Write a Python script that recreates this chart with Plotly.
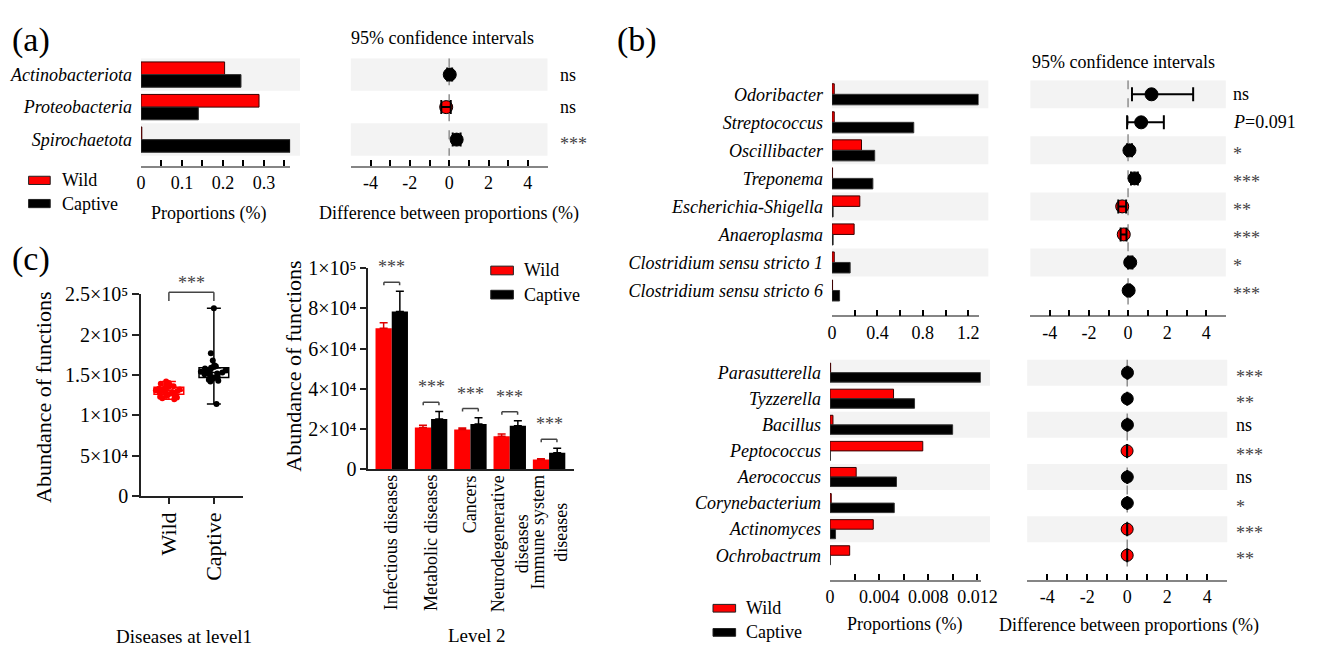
import numpy as np
import plotly.graph_objects as go

W, H = 1320, 655
FONT = "Liberation Serif"
RED = "#ff0000"
BLACK = "#000000"
BAND = "#f3f3f3"
AXGRAY = "#858585"
SIGGRAY = "#444444"

# ---------------- data ----------------
# (a) phylum level
phyla = ["Actinobacteriota", "Proteobacteria", "Spirochaetota"]
phyla_wild = [0.204, 0.288, 0.002]
phyla_captive = [0.244, 0.140, 0.364]
phyla_diff = [0.03, -0.15, 0.38]
phyla_ci_low = [-0.10, -0.40, 0.18]
phyla_ci_high = [0.15, 0.08, 0.58]
phyla_sig = ["ns", "ns", "***"]

# (b) genus level, upper group
genera_a = ["Odoribacter", "Streptococcus", "Oscillibacter", "Treponema",
            "Escherichia-Shigella", "Anaeroplasma",
            "Clostridium sensu stricto 1", "Clostridium sensu stricto 6"]
genera_a_wild = [0.02, 0.02, 0.26, 0.005, 0.245, 0.195, 0.02, 0.005]
genera_a_captive = [1.29, 0.72, 0.376, 0.36, 0.01, 0.01, 0.16, 0.067]
genera_a_diff = [1.20, 0.67, 0.07, 0.33, -0.30, -0.22, 0.11, 0.03]
genera_a_ci_low = [0.20, -0.05, -0.05, 0.15, -0.50, -0.38, 0.00, -0.04]
genera_a_ci_high = [3.33, 1.83, 0.20, 0.50, -0.10, -0.08, 0.22, 0.10]
genera_a_sig = ["ns", "<i>P</i>=0.091", "*", "***", "**", "***", "*", "***"]

# (b) genus level, lower group
genera_b = ["Parasutterella", "Tyzzerella", "Bacillus", "Peptococcus",
            "Aerococcus", "Corynebacterium", "Actinomyces", "Ochrobactrum"]
genera_b_wild = [0.00005, 0.00517, 0.00024, 0.00755, 0.00213, 0.0001, 0.00352, 0.0016]
genera_b_captive = [0.01227, 0.00688, 0.00998, 0.00003, 0.00541, 0.00523, 0.00045, 0.00003]
genera_b_diff = [0.012, 0.0017, 0.0097, -0.0075, 0.0033, 0.0051, -0.0031, -0.0016]
genera_b_ci_low = [0.005, -0.002, 0.004, -0.011, 0.001, 0.002, -0.005, -0.003]
genera_b_ci_high = [0.019, 0.005, 0.015, -0.004, 0.006, 0.008, -0.001, 0.000]
genera_b_sig = ["***", "**", "ns", "***", "ns", "*", "***", "**"]

# (c) diseases at level 1 (abundance of functions per sample)
groups = ["Wild", "Captive"]
wild_abund = [142000, 140000, 139000, 138000, 137000, 136000, 135000, 134000,
              133000, 133000, 132000, 131000, 131000, 130000, 130000, 129000,
              128000, 128000, 127000, 126000, 125000, 124000, 123000, 122000,
              121000, 120000]
captive_abund = [233000, 177000, 168000, 162000, 161000, 160000, 159000, 158000,
                 157000, 156000, 155000, 154000, 153000, 152000, 152000, 151000,
                 150000, 149000, 147000, 146000, 145000, 144000, 143000, 142000,
                 114000]
level1_sig = "***"
level1_ticks = [0, 50000, 100000, 150000, 200000, 250000]
level1_ticktext = ["0", "5×10⁴", "1×10⁵", "1.5×10⁵", "2×10⁵", "2.5×10⁵"]

# (c) level 2
level2 = ["Infectious diseases", "Metabolic diseases", "Cancers",
          "Neurodegenerative<br>diseases", "Immune system<br>diseases"]
level2_wild = [70100, 20800, 19800, 16500, 4900]
level2_wild_sd = [2700, 1100, 700, 1100, 400]
level2_captive = [78400, 25000, 22600, 21700, 8200]
level2_captive_sd = [10100, 3800, 3100, 2400, 2300]
level2_sig = ["***", "***", "***", "***", "***"]
level2_ticks = [0, 20000, 40000, 60000, 80000, 100000]
level2_ticktext = ["0", "2×10⁴", "4×10⁴", "6×10⁴", "8×10⁴", "1×10⁵"]

# ---------------- helpers ----------------
def PX(x):
    return x / W


def PY(y):
    return 1 - y / H


def xdom(a, b):
    return [PX(a), PX(b)]


def ydom(top, bottom):
    return [PY(bottom), PY(top)]


fig = go.Figure()
shapes = []
annotations = []
axes = {}


def ann(t, x, y, size=18, xanchor="center", yanchor="middle", xref="paper",
        yref="paper", angle=0, color="black", **kw):
    d = dict(text=t, x=x, y=y, xref=xref, yref=yref, xanchor=xanchor,
             yanchor=yanchor, showarrow=False, textangle=angle,
             font=dict(family=FONT, size=size, color=color))
    d.update(kw)
    annotations.append(d)


def ids(k):
    return ("x" if k == 1 else f"x{k}"), ("y" if k == 1 else f"y{k}")


def set_axes(k, xd, yd, xr, yr, xextra, yextra):
    xid, yid = ids(k)
    xn = "xaxis" if k == 1 else f"xaxis{k}"
    yn = "yaxis" if k == 1 else f"yaxis{k}"
    axes[xn] = dict(domain=xd, range=xr, anchor=yid, showgrid=False,
                    zeroline=False, **xextra)
    axes[yn] = dict(domain=yd, range=yr, anchor=xid, showgrid=False,
                    zeroline=False, **yextra)


TICKFONT = dict(family=FONT, size=18, color="black")


def prop_xaxis(major_vals, major_text, minor_vals):
    return dict(showline=True, linecolor=AXGRAY, linewidth=1.5, ticks="inside",
                ticklen=6, tickwidth=2, tickcolor="black", tickmode="array",
                tickvals=major_vals, ticktext=major_text, tickfont=TICKFONT,
                minor=dict(tickmode="array", tickvals=minor_vals, ticks="inside",
                           ticklen=6, tickwidth=2, tickcolor="black", showgrid=False))


ci_major = [-4, -2, 0, 2, 4]
ci_minor = [-5, -3, -1, 1, 3, 5]


def row_panel(kb, kc, names, wild, captive, diff, lo, hi, sig, xd_bar, xd_ci,
              yd, gap_rows, bar_major, bar_minor, bw, msize, band_ext, sig_shift):
    n = len(names)
    rows = list(range(n))
    xb, yb = ids(kb)
    xc, yc = ids(kc)
    for i in rows[::2]:
        shapes.append(dict(type="rect", xref=f"{xb} domain", yref=yb, x0=0, x1=band_ext,
                           y0=i - 0.5, y1=i + 0.5, fillcolor=BAND, line_width=0, layer="below"))
        shapes.append(dict(type="rect", xref=f"{xc} domain", yref=yc, x0=0, x1=1,
                           y0=i - 0.5, y1=i + 0.5, fillcolor=BAND, line_width=0, layer="below"))
    shapes.append(dict(type="line", xref=xc, yref=yc, x0=0, x1=0, y0=-0.5, y1=n - 0.5,
                       line=dict(color="#8f8f8f", width=1.5, dash="dash"), layer="below"))
    fig.add_trace(go.Bar(x=wild, y=rows, orientation="h", width=bw, offset=-bw,
                         marker=dict(color=RED, line=dict(color="#3a0000", width=1)),
                         xaxis=xb, yaxis=yb, showlegend=False, hoverinfo="x+y"))
    fig.add_trace(go.Bar(x=captive, y=rows, orientation="h", width=bw, offset=0,
                         marker=dict(color=BLACK, line=dict(color="#333333", width=1)),
                         xaxis=xb, yaxis=yb, showlegend=False, hoverinfo="x+y"))
    colors = [RED if d < 0 else BLACK for d in diff]
    # points
    fig.add_trace(go.Scatter(
        x=diff, y=rows, mode="markers",
        marker=dict(color=colors, size=msize, line=dict(color=BLACK, width=1)),
        xaxis=xc, yaxis=yc, showlegend=False))
    # confidence intervals drawn on top of the points
    fig.add_trace(go.Scatter(
        x=diff, y=rows, mode="markers",
        marker=dict(color="rgba(0,0,0,0)", size=1),
        error_x=dict(type="data", symmetric=False,
                     array=[h - d for d, h in zip(diff, hi)],
                     arrayminus=[d - l for d, l in zip(diff, lo)],
                     color=BLACK, thickness=2, width=7),
        xaxis=xc, yaxis=yc, showlegend=False, hoverinfo="skip"))
    xmax = max(max(wild), max(captive))
    yr = [n - 0.5 + gap_rows, -0.5]
    set_axes(kb, xd_bar, yd, [0, xmax], yr,
             prop_xaxis(bar_major, [("%g" % v) for v in bar_major],
                        bar_minor + [xmax]),
             dict(showline=False, ticks="", tickmode="array", tickvals=rows,
                  ticktext=[f"<i>{s}</i>" for s in names], tickfont=TICKFONT,
                  ticklabelstandoff=8))
    set_axes(kc, xd_ci, yd, [-5, 5], yr,
             prop_xaxis(ci_major, [str(v) for v in ci_major], ci_minor),
             dict(showline=False, ticks="", showticklabels=False))
    for i, s in enumerate(sig):
        ann(s, 1, i, xref=f"{xc} domain", yref=yc, xanchor="left",
            xshift=sig_shift, yshift=(-4 if s.startswith("*") else 0),
            color=(SIGGRAY if s.startswith("*") else "black"))


# ---------------- panel (a) ----------------
row_panel(1, 2, phyla, phyla_wild, phyla_captive, phyla_diff, phyla_ci_low,
          phyla_ci_high, phyla_sig, xdom(138.3, 290.0), xdom(351.7, 551.7),
          ydom(49, 160), 0.30,
          [0, 0.1, 0.2, 0.3], [0.05, 0.15, 0.25, 0.35],
          0.39, 13, 1.066, 10)

# ---------------- panel (b) ----------------
row_panel(3, 4, genera_a, genera_a_wild, genera_a_captive, genera_a_diff,
          genera_a_ci_low, genera_a_ci_high, genera_a_sig,
          xdom(841, 990), xdom(1042.7, 1241.5), ydom(71.7, 315), 0.39,
          [0, 0.4, 0.8, 1.2], [0.2, 0.6, 1.0],
          0.375, 13, 1.067, 5)

row_panel(5, 6, genera_b, genera_b_wild, genera_b_captive, genera_b_diff,
          genera_b_ci_low, genera_b_ci_high, genera_b_sig,
          xdom(839, 992.3), xdom(1039.5, 1243), ydom(360.7, 588.3), 0.43,
          [0, 0.004, 0.008, 0.012], [0.002, 0.006, 0.010],
          0.365, 12, 1.061, 7)

# ---------------- panel (c) level 1 box plot ----------------
BOXW = 0.66
for i, (vals, col) in enumerate([(wild_abund, RED), (captive_abund, BLACK)]):
    q1, med, q3 = np.percentile(vals, [25, 50, 75])
    fig.add_trace(go.Box(x=[i], q1=[q1], median=[med], q3=[q3], lowerfence=[q1],
                         upperfence=[q3], width=BOXW, boxpoints=False,
                         line=dict(color=col, width=1.5), fillcolor="rgba(0,0,0,0)",
                         xaxis="x7", yaxis="y7", showlegend=False))
    fig.add_trace(go.Box(x=[i] * len(vals), y=vals, boxpoints="all", jitter=0.9,
                         pointpos=0, width=BOXW, line=dict(color="rgba(0,0,0,0)", width=0),
                         fillcolor="rgba(0,0,0,0)", marker=dict(color=col, size=6),
                         xaxis="x7", yaxis="y7", showlegend=False))
    fig.add_trace(go.Scatter(x=[i, i], y=[q3, q1], mode="markers",
                             marker=dict(size=1, color="rgba(0,0,0,0)"),
                             error_y=dict(type="data", symmetric=False,
                                          array=[max(vals) - q3, 0],
                                          arrayminus=[0, q1 - min(vals)],
                                          color=col, thickness=1.5, width=7),
                             xaxis="x7", yaxis="y7", showlegend=False))

set_axes(7, xdom(138.3, 241.7), ydom(293.3, 501.7), [-0.62, 1.64], [0, 250000],
         dict(showline=True, linecolor="#222222", linewidth=1.5, ticks="outside",
              ticklen=6, tickwidth=1.5, tickcolor="#222222", tickmode="array",
              tickvals=[0, 1], ticktext=groups, tickangle=-90,
              tickfont=dict(family=FONT, size=22, color="black")),
         dict(showline=True, linecolor="#222222", linewidth=1.5, ticks="outside",
              ticklen=7, tickwidth=1.5, tickcolor="#222222", tickmode="array",
              tickvals=level1_ticks, ticktext=level1_ticktext,
              tickfont=dict(family=FONT, size=20, color="black")))

for x0, x1, y0, y1 in [(0, 0, 0.968, 1.011), (0, 1, 1.011, 1.011), (1, 1, 1.011, 0.968)]:
    shapes.append(dict(type="line", xref="x7", yref="y7 domain", x0=x0, x1=x1,
                       y0=y0, y1=y1, line=dict(color=SIGGRAY, width=1.5)))
ann(level1_sig, 0.5, 1.011, xref="x7", yref="y7 domain", yanchor="bottom",
    yshift=-3, color=SIGGRAY)

# ---------------- panel (c) level 2 bar chart ----------------
BWC = 0.4125
pos = list(range(len(level2)))
fig.add_trace(go.Bar(x=pos, y=level2_wild, width=BWC, offset=-BWC,
                     marker=dict(color=RED, line=dict(width=0)),
                     error_y=dict(type="data", symmetric=False, array=level2_wild_sd,
                                  arrayminus=[0] * len(pos), color="#e00000",
                                  thickness=1.5, width=4),
                     xaxis="x8", yaxis="y8", showlegend=False))
fig.add_trace(go.Bar(x=pos, y=level2_captive, width=BWC, offset=0,
                     marker=dict(color=BLACK, line=dict(width=0)),
                     error_y=dict(type="data", symmetric=False, array=level2_captive_sd,
                                  arrayminus=[0] * len(pos), color=BLACK,
                                  thickness=1.5, width=4),
                     xaxis="x8", yaxis="y8", showlegend=False))

set_axes(8, xdom(369.3, 578.3), ydom(266, 474.3), [-0.6, 4.625], [0, 100000],
         dict(showline=True, linecolor="#222222", linewidth=1.5, ticks="",
              showticklabels=False),
         dict(showline=True, linecolor="#222222", linewidth=1.5, ticks="outside",
              ticklen=6, tickwidth=1.5, tickcolor="#222222", tickmode="array",
              tickvals=level2_ticks, ticktext=level2_ticktext,
              tickfont=dict(family=FONT, size=20, color="black")))

for i, (w, ws, c, cs, s) in enumerate(zip(level2_wild, level2_wild_sd, level2_captive,
                                          level2_captive_sd, level2_sig)):
    top = max(w + ws, c + cs) + 4500
    leg = 1500
    for x0, x1, y0, y1 in [(i - 0.2, i - 0.2, top - leg, top), (i - 0.2, i + 0.2, top, top),
                           (i + 0.2, i + 0.2, top, top - leg)]:
        shapes.append(dict(type="line", xref="x8", yref="y8", x0=x0, x1=x1, y0=y0, y1=y1,
                           line=dict(color=SIGGRAY, width=1.5)))
    ann(s, i, top, xref="x8", yref="y8", yanchor="bottom", yshift=3, color=SIGGRAY)
    ann(level2[i], i, PY(478), xref="x8", yref="paper", yanchor="top", angle=-90,
        align="center")

# ---------------- titles, labels, legends ----------------
ann("(a)", PX(5), PY(30), size=34, xanchor="left")
ann("(b)", PX(620), PY(30), size=34, xanchor="left")
ann("(c)", PX(5), PY(257), size=34, xanchor="left")

ann("95% confidence intervals", PX(445), PY(28))
ann("Proportions (%)", PX(207), PY(210))
ann("Difference between proportions (%)", PX(452), PY(210))
ann("95% confidence intervals", PX(1137), PY(53))
ann("Proportions (%)", PX(915), PY(635))
ann("Difference between proportions (%)", PX(1143), PY(636))

ann("Abundance of functions", PX(39), PY(400), size=22, angle=-90)
ann("Abundance of functions", PX(294), PY(368), size=22, angle=-90)
ann("Diseases at level1", PX(182), PY(647), size=19)
ann("Level 2", PX(480), PY(646), size=19)


def legend(x0, x1, ytop_red, ytop_black, h, tx):
    for (yt, col, lab) in [(ytop_red, RED, "Wild"), (ytop_black, BLACK, "Captive")]:
        shapes.append(dict(type="rect", xref="paper", yref="paper", x0=PX(x0), x1=PX(x1),
                           y0=PY(yt + h), y1=PY(yt), fillcolor=col,
                           line=dict(color="#222222", width=1)))
        ann(lab, PX(tx), PY(yt + h / 2), xanchor="left")


legend(24, 46, 171, 195, 8.5, 56)
legend(720, 743, 614, 639, 8, 752)
legend(494, 517, 264, 289, 9, 526)

fig.update_layout(
    width=W, height=H, margin=dict(l=0, r=0, t=0, b=0),
    paper_bgcolor="white", plot_bgcolor="rgba(0,0,0,0)",
    showlegend=False, barmode="overlay", boxmode="overlay",
    font=dict(family=FONT, size=18, color="black"),
    shapes=shapes, annotations=annotations, **axes)

fig.write_html("out.html",
               post_script="document.body.style.margin='0px';"
                           "document.body.style.overflow='hidden';")
